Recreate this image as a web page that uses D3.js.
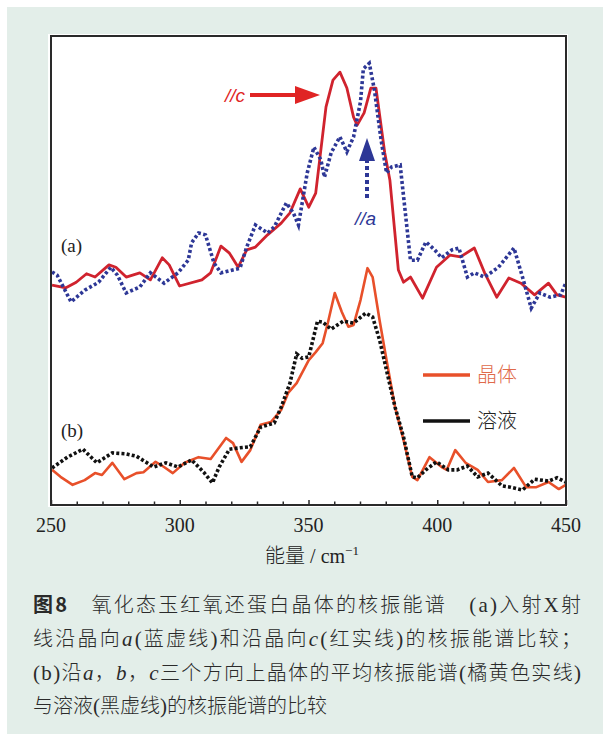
<!DOCTYPE html>
<html>
<head>
<meta charset="utf-8">
<script src="https://cdn.jsdelivr.net/npm/d3@7"></script>
<style>
  html, body { margin: 0; padding: 0; background: #ffffff; }
  svg { display: block; }
</style>
</head>
<body>
<svg id="chart" width="603" height="734"></svg>
<script>
// Nuclear resonance vibrational spectra of oxidized rubredoxin
// Energies in cm^-1, intensities in arbitrary offset units.

// (a) crystal, X-ray along c axis (red solid)
const cEnergy = [250.4,255.8,259.8,263.8,267.1,272.5,275.2,279.2,284.5,288.6,293.2,295.9,299.9,308.6,312.0,316.0,319.3,322.7,326.0,329.4,334.1,339.4,342.8,346.8,350.1,352.8,356.8,359.5,362.2,364.9,367.5,368.9,371.6,374.2,376.2,379.6,381.6,384.9,386.9,389.6,394.3,399.7,405.0,409.0,414.4,418.4,423.1,427.8,432.5,437.8,443.2,446.5,449.9];
const cValue  = [46.9,46.3,47.5,49.3,48.6,51.2,50.7,48.6,49.5,48.0,52.7,51.2,46.7,48.0,49.5,55.2,53.7,50.7,54.4,55.0,57.6,60.1,62.3,67.4,63.5,66.5,84.9,90.6,92.3,88.9,82.7,81.0,83.6,88.9,88.9,75.1,69.3,50.1,47.5,48.6,44.1,50.7,53.3,52.9,54.8,49.5,44.3,48.4,47.3,44.8,47.3,44.8,44.3];

// (a) crystal, X-ray along a axis (blue dotted)
const aEnergy = [250.4,252.4,257.8,263.1,268.5,273.2,275.8,279.2,284.5,288.6,293.9,299.3,303.3,304.6,307.3,310.0,313.3,316.0,323.4,326.0,329.4,334.1,336.7,341.4,344.1,346.1,349.5,352.1,354.8,356.2,358.8,362.2,364.9,367.5,370.2,371.3,373.6,375.6,378.2,380.3,382.3,385.6,389.6,392.3,395.6,399.0,401.7,405.7,408.4,411.7,414.4,418.4,423.8,429.8,433.1,436.5,439.8,443.8,447.9,449.9];
const aValue  = [49.7,49.0,43.3,45.8,47.5,50.7,49.0,45.2,46.5,49.5,47.3,49.5,52.2,55.9,58.0,57.6,51.6,49.5,50.5,55.0,59.7,58.0,59.3,64.4,62.3,59.7,70.8,76.3,73.6,69.9,75.1,78.5,75.3,78.5,86.0,93.0,94.2,88.5,77.8,70.8,72.1,72.5,52.2,52.2,56.1,54.4,52.7,54.4,54.8,48.6,49.5,48.6,50.7,54.8,48.6,42.0,45.2,44.3,44.8,47.3];

// (b) crystal average over a, b, c (orange solid)
const xtalEnergy = [250.4,253.7,258.4,263.1,267.1,269.8,273.8,278.5,283.2,285.9,290.6,293.9,297.3,301.9,307.3,312.0,318.0,320.7,324.0,327.4,331.4,335.4,339.4,342.1,345.4,350.1,352.8,355.5,357.5,360.2,362.9,365.5,367.5,370.2,372.9,374.9,377.6,380.3,383.6,386.9,390.3,392.3,397.0,401.7,403.7,407.0,411.0,415.7,419.7,425.1,429.8,434.5,438.5,443.2,447.2,449.9];
const xtalValue  = [7.5,6.0,4.3,5.3,6.8,6.4,9.0,5.5,6.8,7.0,9.2,8.1,6.8,9.0,10.2,9.8,14.3,13.2,9.2,11.7,17.1,17.7,20.3,23.9,26.0,30.9,32.6,34.5,38.8,45.2,41.2,38.0,38.4,43.7,50.5,48.6,39.4,30.9,20.9,13.9,6.0,5.3,10.2,8.1,7.5,11.7,9.0,7.5,4.9,5.3,7.9,3.8,3.8,4.9,3.4,4.3];

// (b) solution (black dotted)
const solnEnergy = [250.4,256.4,262.4,267.8,273.8,279.2,283.2,289.9,294.6,299.3,304.6,309.3,312.7,315.3,319.3,323.4,327.4,331.4,336.7,339.4,342.8,345.4,347.5,350.1,353.5,355.5,358.8,363.5,367.5,372.2,374.9,377.6,380.9,383.6,386.9,390.3,392.3,395.6,399.7,404.3,407.7,411.7,415.7,419.7,425.1,428.4,433.1,437.8,443.2,446.5,449.9];
const solnValue  = [7.9,10.2,11.9,9.0,11.1,10.9,10.4,8.1,9.0,8.1,9.6,7.0,4.7,8.1,11.9,12.2,12.4,16.6,17.5,20.9,26.0,32.2,31.3,31.6,39.2,39.0,37.5,39.2,38.8,40.9,40.1,35.2,27.3,20.9,14.5,6.0,5.8,7.5,9.2,7.5,7.5,8.3,6.0,6.8,4.1,3.8,3.2,5.5,5.1,5.8,4.9];

const xTicks = [250, 300, 350, 400, 450];
const legendLabels = ["晶体", "溶液"];
// caption runs: b = bold, i = italic Latin, s = upright Latin
const captionLines = [
  [{t:"图8", b:true}, {t:"　氧化态玉红氧还蛋白晶体的核振能谱　"}, {t:"(a)", s:true}, {t:"入射"}, {t:"X", s:true}, {t:"射"}],
  [{t:"线沿晶向"}, {t:"a", i:true}, {t:"(", s:true}, {t:"蓝虚线"}, {t:")", s:true}, {t:"和沿晶向"}, {t:"c", i:true}, {t:"(", s:true}, {t:"红实线"}, {t:")", s:true}, {t:"的核振能谱比较；"}],
  [{t:"(b)", s:true}, {t:"沿"}, {t:"a", i:true}, {t:"，"}, {t:"b", i:true}, {t:"，"}, {t:"c", i:true}, {t:"三个方向上晶体的平均核振能谱"}, {t:"(", s:true}, {t:"橘黄色实线"}, {t:")", s:true}],
  [{t:"与溶液"}, {t:"(", s:true}, {t:"黑虚线"}, {t:")", s:true}, {t:"的核振能谱的比较"}]
];

const svg = d3.select("#chart");
const W = 603, H = 734;
const plot = {left: 51, right: 566, top: 36, bottom: 505};

// page panel
svg.append("rect").attr("x", 7).attr("y", 7).attr("width", W - 7).attr("height", H - 7).attr("fill", "#e3eee9");

// white plot area with a thin margin
svg.append("rect").attr("x", plot.left - 3).attr("y", plot.top - 2)
  .attr("width", plot.right - plot.left + 5).attr("height", plot.bottom - plot.top + 4)
  .attr("fill", "#ffffff");

const x = d3.scaleLinear().domain([250, 450]).range([plot.left, plot.right]);
const y = d3.scaleLinear().domain([0, 100]).range([plot.bottom, plot.top]);

const serif = "'Liberation Serif', 'Times New Roman', serif";
const cjk = "'Noto Sans CJK SC', sans-serif";

const line = d3.line().x(d => x(d[0])).y(d => y(d[1])).curve(d3.curveLinear);
const zip = (a, b) => a.map((v, i) => [v, b[i]]);

const g = svg.append("g");
g.append("clipPath").attr("id", "clip").append("rect")
  .attr("x", plot.left).attr("y", plot.top).attr("width", plot.right - plot.left).attr("height", plot.bottom - plot.top);
const curves = g.append("g").attr("clip-path", "url(#clip)");

curves.append("path").datum(zip(xtalEnergy, xtalValue)).attr("d", line)
  .attr("fill", "none").attr("stroke", "#e8502a").attr("stroke-width", 2.6).attr("stroke-linejoin", "round");
curves.append("path").datum(zip(solnEnergy, solnValue)).attr("d", line)
  .attr("fill", "none").attr("stroke", "#111111").attr("stroke-width", 3.6).attr("stroke-dasharray", "3 2.2");
curves.append("path").datum(zip(cEnergy, cValue)).attr("d", line)
  .attr("fill", "none").attr("stroke", "#d0232e").attr("stroke-width", 2.8).attr("stroke-linejoin", "round");
curves.append("path").datum(zip(aEnergy, aValue)).attr("d", line)
  .attr("fill", "none").attr("stroke", "#2d3796").attr("stroke-width", 3.6).attr("stroke-dasharray", "3 2.4");

// frame
svg.append("rect").attr("x", plot.left).attr("y", plot.top)
  .attr("width", plot.right - plot.left).attr("height", plot.bottom - plot.top)
  .attr("fill", "none").attr("stroke", "#2a2a2a").attr("stroke-width", 2);

// inward ticks on the bottom axis
const axis = d3.axisBottom(x).tickValues(d3.range(250, 451, 10)).tickSize(0).tickFormat("");
const ax = svg.append("g").attr("transform", `translate(0,${plot.bottom})`).call(axis);
ax.select(".domain").remove();
ax.selectAll(".tick line")
  .attr("y2", d => (d % 50 === 0 ? -5 : -3.5))
  .attr("stroke", "#2a2a2a").attr("stroke-width", 1.5);

// tick labels
svg.append("g").selectAll("text").data(xTicks).join("text")
  .attr("x", d => x(d)).attr("y", 532)
  .attr("text-anchor", "middle").attr("font-family", serif).attr("font-size", 20)
  .attr("fill", "#222").text(d => d);

// axis title
const title = svg.append("text").attr("x", 312).attr("y", 563).attr("text-anchor", "middle")
  .attr("fill", "#222").attr("font-size", 20);
title.append("tspan").attr("font-family", cjk).attr("font-weight", 300).text("能量");
title.append("tspan").attr("font-family", serif).text(" / cm");
title.append("tspan").attr("font-family", serif).attr("font-size", 13).attr("dy", -8).text("−1");

// panel labels
svg.append("text").attr("x", 61).attr("y", 252).attr("font-family", serif).attr("font-size", 19).attr("fill", "#222").text("(a)");
svg.append("text").attr("x", 61).attr("y", 437).attr("font-family", serif).attr("font-size", 19).attr("fill", "#222").text("(b)");

// //c annotation
const red = "#e02424";
svg.append("text").attr("x", 225).attr("y", 102).attr("font-family", "'Liberation Sans', Arial, sans-serif")
  .attr("font-style", "italic").attr("font-size", 19).attr("fill", red).text("//c");
svg.append("line").attr("x1", 250).attr("x2", 298).attr("y1", 95).attr("y2", 95)
  .attr("stroke", red).attr("stroke-width", 4);
svg.append("path").attr("d", "M295,86 L320,95 L295,104 Z").attr("fill", red);

// //a annotation
const blue = "#2d3796";
svg.append("text").attr("x", 355).attr("y", 225).attr("font-family", "'Liberation Sans', Arial, sans-serif")
  .attr("font-style", "italic").attr("font-size", 19).attr("fill", blue).text("//a");
svg.append("line").attr("x1", 367).attr("x2", 367).attr("y1", 198).attr("y2", 158)
  .attr("stroke", blue).attr("stroke-width", 4).attr("stroke-dasharray", "4 3");
svg.append("path").attr("d", "M359,161 L367,138 L375,161 Z").attr("fill", blue);

// legend
const legend = [
  {label: legendLabels[0], color: "#e8502a", text: "#e06a4a", y: 375},
  {label: legendLabels[1], color: "#111111", text: "#222", y: 421}
];
legend.forEach(d => {
  svg.append("line").attr("x1", 423).attr("x2", 470).attr("y1", d.y).attr("y2", d.y)
    .attr("stroke", d.color).attr("stroke-width", 3.5);
  svg.append("text").attr("x", 477).attr("y", d.y + 7).attr("font-family", cjk).attr("font-weight", 300)
    .attr("font-size", 20).attr("fill", d.text).text(d.label);
});

// caption
const capY = [612, 646, 680, 713];
captionLines.forEach((parts, i) => {
  const t = svg.append("text").attr("x", 33).attr("y", capY[i]).attr("font-size", 20).attr("fill", "#2a2a2a")
    .attr("font-family", cjk).attr("font-weight", 300);
  parts.forEach(p => {
    const s = t.append("tspan").text(p.t);
    if (p.b) s.attr("font-weight", 700);
    if (p.i) s.attr("font-family", serif).attr("font-style", "italic").attr("font-size", 21).attr("font-weight", 400);
    if (p.s) s.attr("font-family", serif).attr("font-size", 21).attr("font-weight", 400);
  });
  if (i < 3) t.attr("textLength", 548).attr("lengthAdjust", "spacing");
});
</script>
</body>
</html>
